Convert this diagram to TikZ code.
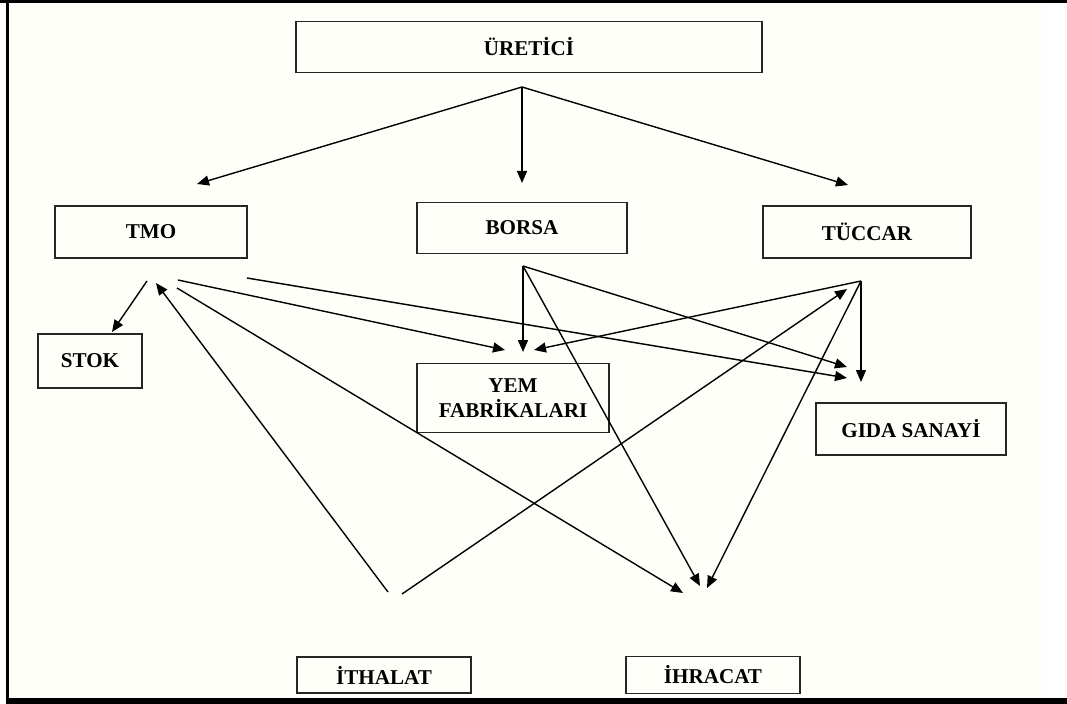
\documentclass[tikz,border=0pt]{standalone}
\usepackage{fontspec}
\setmainfont{Liberation Serif}
\usetikzlibrary{arrows.meta}

\begin{document}
\begin{tikzpicture}[x=0.025cm, y=-0.025cm,
  box/.style={rectangle, draw=black!85, line width=1.1pt, inner sep=0pt, outer sep=0pt,
    align=center, font=\fontsize{15}{18}\selectfont\bfseries},
  arr/.style={line width=1pt, -{Triangle[length=3mm, width=2.5mm]}}]

\useasboundingbox (0,0) rectangle (1067,704);
\fill[white!98!yellow] (9,3) rectangle (1043,698);
\fill[black] (0,0) rectangle (1067,3);
\fill[black] (6,0) rectangle (9,704);
\fill[black] (6,698) rectangle (1067,704);

%Nodes
\node (U) at (529,47) [box, minimum width=11.65cm, minimum height=1.275cm] {ÜRETİCİ};
\node (T) at (151,232) [box, minimum width=4.8cm, minimum height=1.3cm] {TMO};
\node (B) at (522,228) [box, minimum width=5.25cm, minimum height=1.275cm] {BORSA};
\node (C) at (867,232) [box, minimum width=5.2cm, minimum height=1.3cm] {TÜCCAR};
\node (S) at (90,361) [box, minimum width=2.6cm, minimum height=1.35cm] {STOK};
\node (Y) at (513,398) [box, minimum width=4.8cm, minimum height=1.725cm] {YEM\\FABRİKALARI};
\node (G) at (911,429) [box, minimum width=4.75cm, minimum height=1.3cm] {GIDA SANAYİ};
\node (I) at (384,675) [box, minimum width=4.35cm, minimum height=0.9cm] {İTHALAT};
\node (E) at (713,675) [box, minimum width=4.35cm, minimum height=0.925cm] {İHRACAT};

%Ends
\coordinate (U0) at (522,87);
\coordinate (T1) at (197,184);
\coordinate (B1) at (522,183);
\coordinate (C1) at (848,185);

\coordinate (T0) at (147,281);
\coordinate (T2) at (156,283);
\coordinate (T3) at (178,280);
\coordinate (T4) at (177,288);
\coordinate (T5) at (247,278);
\coordinate (S1) at (112,332);

\coordinate (B0) at (523,266);
\coordinate (C0) at (861,281);
\coordinate (C2) at (847,289);

\coordinate (Y1) at (505,350);
\coordinate (Y2) at (523,352);
\coordinate (Y3) at (534,350);

\coordinate (G1) at (847,367);
\coordinate (G2) at (847,378);
\coordinate (G3) at (861,382);

\coordinate (I1) at (388,592);
\coordinate (I2) at (402,594);

\coordinate (E1) at (683,593);
\coordinate (E2) at (700,586);
\coordinate (E3) at (707,588);

\draw[arr] (U0) to (T1);
\draw[arr] (U0) to (B1);
\draw[arr] (U0) to (C1);

\draw[arr] (T0) to (S1);
\draw[arr] (T3) to (Y1);
\draw[arr] (T4) to (E1);
\draw[arr] (T5) to (G2);

\draw[arr] (B0) to (Y2);
\draw[arr] (B0) to (E2);
\draw[arr] (B0) to (G1);

\draw[arr] (C0) to (G3);
\draw[arr] (C0) to (Y3);
\draw[arr] (C0) to (E3);

\draw[arr] (I1) to (T2);
\draw[arr] (I2) to (C2);

\end{tikzpicture}
\end{document}
